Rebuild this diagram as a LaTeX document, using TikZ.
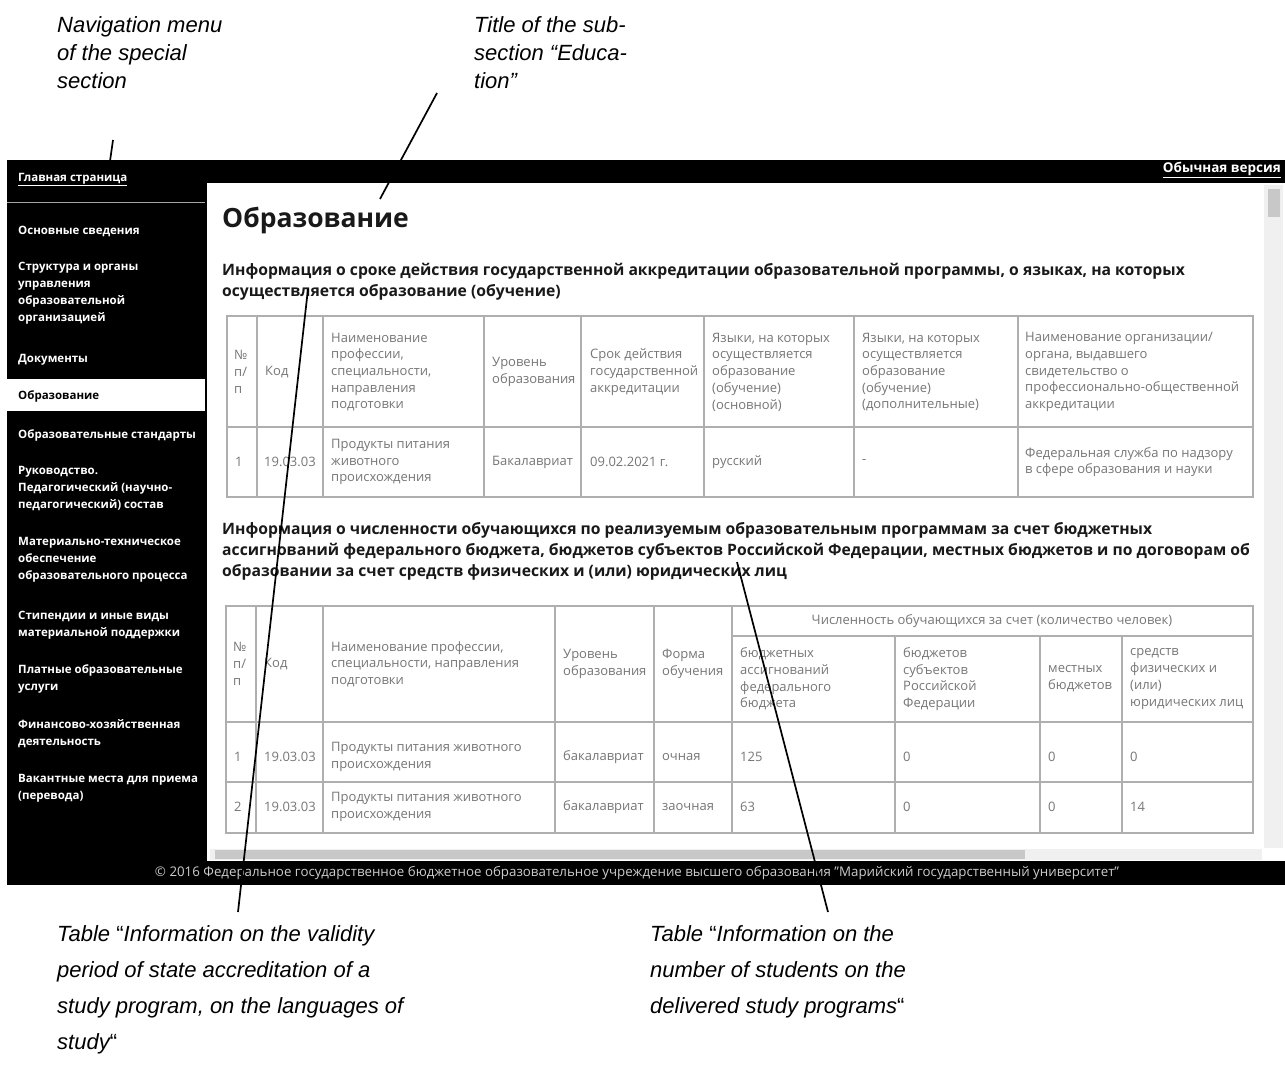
\documentclass[tikz,border=0pt]{standalone}
\usepackage{fontspec}
\setmainfont{Open Sans}
\newfontfamily\notefont{Liberation Sans}
\usepackage{tikz}
\definecolor{cellGray}{RGB}{118,118,118}
\definecolor{ruleGray}{RGB}{175,175,175}
\definecolor{thumbGray}{RGB}{200,200,200}
\definecolor{trackGray}{RGB}{240,240,240}
\definecolor{footGray}{RGB}{205,205,205}

\tikzset{
  note/.style={font=\notefont\itshape\fontsize{22}{28}\selectfont, anchor=north west, align=left, inner sep=0pt},
  lownote/.style={note, font=\notefont\itshape\fontsize{22}{36}\selectfont},
  menuitem/.style={font=\bfseries\fontsize{11.5}{17}\selectfont, text=white, anchor=north west, align=left, inner sep=0pt},
  caption/.style={font=\bfseries\fontsize{15.7}{21}\selectfont, text=black!90, anchor=north west, align=left, inner sep=0pt},
  cell/.style={font=\fontsize{13}{16.7}\selectfont, text=cellGray, anchor=west, align=left, inner sep=0pt},
  grid/.style={draw=ruleGray, line width=1.2pt},
}

\begin{document}
\begin{tikzpicture}[x=1pt, y=-1pt]
  \useasboundingbox (0,0) rectangle (1285,1084);
  \fill[white] (0,0) rectangle (1285,1084);
  \begin{scope}
    \clip (0,0) rectangle (1285,1084);

    % Screen frame
    \fill[black] (7,160) rectangle (1285,885);
    \fill[white] (207,183) rectangle (1285,861);
    \fill[white] (7,379) rectangle (205,411);
    \draw[gray!70, line width=1pt] (7,202) -- (205,202);
    \node (plainView) at (1281,170) [anchor=east, inner sep=0pt, text=white,
      font=\bfseries\fontsize{13.5}{15}\selectfont] {\underline{Обычная версия}};

    % Scroll bars
    \fill[trackGray] (1264,185) rectangle (1283,848);
    \fill[thumbGray] (1268,189) rectangle (1280,217);
    \fill[trackGray] (210,849) rectangle (1262,860);
    \fill[thumbGray] (215,850) rectangle (1025,859);

    % Footer
    \node (footer) at (637,873) [inner sep=0pt, text=footGray, font=\fontsize{13.3}{15}\selectfont]
      {© 2016 Федеральное государственное бюджетное образовательное учреждение высшего образования "Марийский государственный университет"};

    % Navigation menu
    \begin{scope}[every node/.style={menuitem}]
      \node (mHome) at (18,173) {\underline{Главная страница}};
      \node (mBasic) at (18,226) {Основные сведения};
      \node (mStruct) at (18,262) {Структура и органы\\управления\\образовательной\\организацией};
      \node (mDocs) at (18,354) {Документы};
      \node (mEdu) at (18,390) [text=black] {Образование};
      \node (mStd) at (18,429) {Образовательные стандарты};
      \node (mStaff) at (18,466) {Руководство.\\Педагогический (научно-\\педагогический) состав};
      \node (mTech) at (18,537) {Материально-техническое\\обеспечение\\образовательного процесса};
      \node (mGrant) at (18,611) {Стипендии и иные виды\\материальной поддержки};
      \node (mPaid) at (18,664) {Платные образовательные\\услуги};
      \node (mFin) at (18,719) {Финансово-хозяйственная\\деятельность};
      \node (mVac) at (18,774) {Вакантные места для приема\\(перевода)};
    \end{scope}

    % Page title and captions
    \node (pageTitle) at (222,227) [anchor=base west, inner sep=0pt,
      font=\bfseries\fontsize{26.5}{30}\selectfont, text=black!90] {Образование};
    \node (capOne) at (222,263) [caption] {Информация о сроке действия государственной аккредитации образовательной программы, о языках, на которых\\осуществляется образование (обучение)};
    \node (capTwo) at (222,522) [caption] {Информация о численности обучающихся по реализуемым образовательным программам за счет бюджетных\\ассигнований федерального бюджета, бюджетов субъектов Российской Федерации, местных бюджетов и по договорам об\\образовании за счет средств физических и (или) юридических лиц};

    % Table one: grid
    \draw[grid] (227,316) rectangle (1253,497);
    \draw[grid] (227,427) -- (1253,427);
    \draw[grid] (257,316) -- (257,497) (323,316) -- (323,497) (484,316) -- (484,497)
      (581,316) -- (581,497) (704,316) -- (704,497) (854,316) -- (854,497) (1018,316) -- (1018,497);

    % Table one: cells
    \begin{scope}[every node/.style={cell}]
      \node (aNum) at (234,372) {№\\п/\\п};
      \node (aCode) at (265,372) {Код};
      \node (aName) at (331,372) {Наименование\\профессии,\\специальности,\\направления\\подготовки};
      \node (aLevel) at (492,372) {Уровень\\образования};
      \node (aTerm) at (590,372) {Срок действия\\государственной\\аккредитации};
      \node (aLangMain) at (712,372) {Языки, на которых\\осуществляется\\образование\\(обучение)\\(основной)};
      \node (aLangExtra) at (862,372) {Языки, на которых\\осуществляется\\образование\\(обучение)\\(дополнительные)};
      \node (aOrg) at (1025,372) {Наименование организации/\\органа, выдавшего\\свидетельство о\\профессионально-общественной\\аккредитации};
      \node (a1Num) at (235,462) {1};
      \node (a1Code) at (264,462) {19.03.03};
      \node (a1Name) at (331,462) {Продукты питания\\животного\\происхождения};
      \node (a1Level) at (492,462) {Бакалавриат};
      \node (a1Term) at (590,462) {09.02.2021 г.};
      \node (a1LangMain) at (712,462) {русский};
      \node (a1LangExtra) at (862,462) {-};
      \node (a1Org) at (1025,462) {Федеральная служба по надзору\\в сфере образования и науки};
    \end{scope}

    % Table two: grid
    \draw[grid] (226,606) rectangle (1253,833);
    \draw[grid] (732,636) -- (1253,636);
    \draw[grid] (226,722) -- (1253,722) (226,782) -- (1253,782);
    \draw[grid] (256,606) -- (256,833) (323,606) -- (323,833) (555,606) -- (555,833)
      (654,606) -- (654,833) (732,606) -- (732,833);
    \draw[grid] (895,636) -- (895,833) (1040,636) -- (1040,833) (1122,636) -- (1122,833);

    % Table two: cells
    \begin{scope}[every node/.style={cell}]
      \node (bNum) at (233,664) {№\\п/\\п};
      \node (bCode) at (264,664) {Код};
      \node (bName) at (331,664) {Наименование профессии,\\специальности, направления\\подготовки};
      \node (bLevel) at (563,664) {Уровень\\образования};
      \node (bForm) at (662,664) {Форма\\обучения};
      \node (bCount) at (992,621) [anchor=center] {Численность обучающихся за счет (количество человек)};
      \node (bFed) at (740,679) {бюджетных\\ассигнований\\федерального\\бюджета};
      \node (bSubj) at (903,679) {бюджетов\\субъектов\\Российской\\Федерации};
      \node (bLocal) at (1048,679) {местных\\бюджетов};
      \node (bPriv) at (1130,679) {средств\\физических и\\(или)\\юридических лиц};
      \node (b1Num) at (234,757) {1};
      \node (b1Code) at (264,757) {19.03.03};
      \node (b1Name) at (331,757) {Продукты питания животного\\происхождения};
      \node (b1Level) at (563,757) {бакалавриат};
      \node (b1Form) at (662,757) {очная};
      \node (b1Fed) at (740,757) {125};
      \node (b1Subj) at (903,757) {0};
      \node (b1Local) at (1048,757) {0};
      \node (b1Priv) at (1130,757) {0};
      \node (b2Num) at (234,807) {2};
      \node (b2Code) at (264,807) {19.03.03};
      \node (b2Name) at (331,807) {Продукты питания животного\\происхождения};
      \node (b2Level) at (563,807) {бакалавриат};
      \node (b2Form) at (662,807) {заочная};
      \node (b2Fed) at (740,807) {63};
      \node (b2Subj) at (903,807) {0};
      \node (b2Local) at (1048,807) {0};
      \node (b2Priv) at (1130,807) {14};
    \end{scope}
  \end{scope}

  % Notes
  \node (navNote) at (57,16) [note] {Navigation menu\\of the special\\section};
  \node (titleNote) at (474,16) [note] {Title of the sub-\\section “Educa-\\tion”};
  \node (tabOneNote) at (57,925) [lownote] {Table {\upshape“}Information on the validity\\period of state accreditation of a\\study program, on the languages of\\study{\upshape“}};
  \node (tabTwoNote) at (650,925) [lownote] {Table {\upshape“}Information on the\\number of students on the\\delivered study programs{\upshape“}};

  % Pointers
  \coordinate (navFoot) at (113,140);
  \coordinate (navTip) at (110,161);
  \coordinate (titleFoot) at (437,93);
  \coordinate (titleTip) at (380,199);
  \coordinate (tabOneFoot) at (238,912);
  \coordinate (tabOneTip) at (308,289);
  \coordinate (tabTwoFoot) at (828,912);
  \coordinate (tabTwoTip) at (737,562);
  \begin{scope}[every edge/.style={draw=black, line width=1.7pt}]
    \path (navFoot) edge (navTip);
    \path (titleFoot) edge (titleTip);
    \path (tabOneFoot) edge (tabOneTip);
    \path (tabTwoFoot) edge (tabTwoTip);
  \end{scope}
\end{tikzpicture}
\end{document}
